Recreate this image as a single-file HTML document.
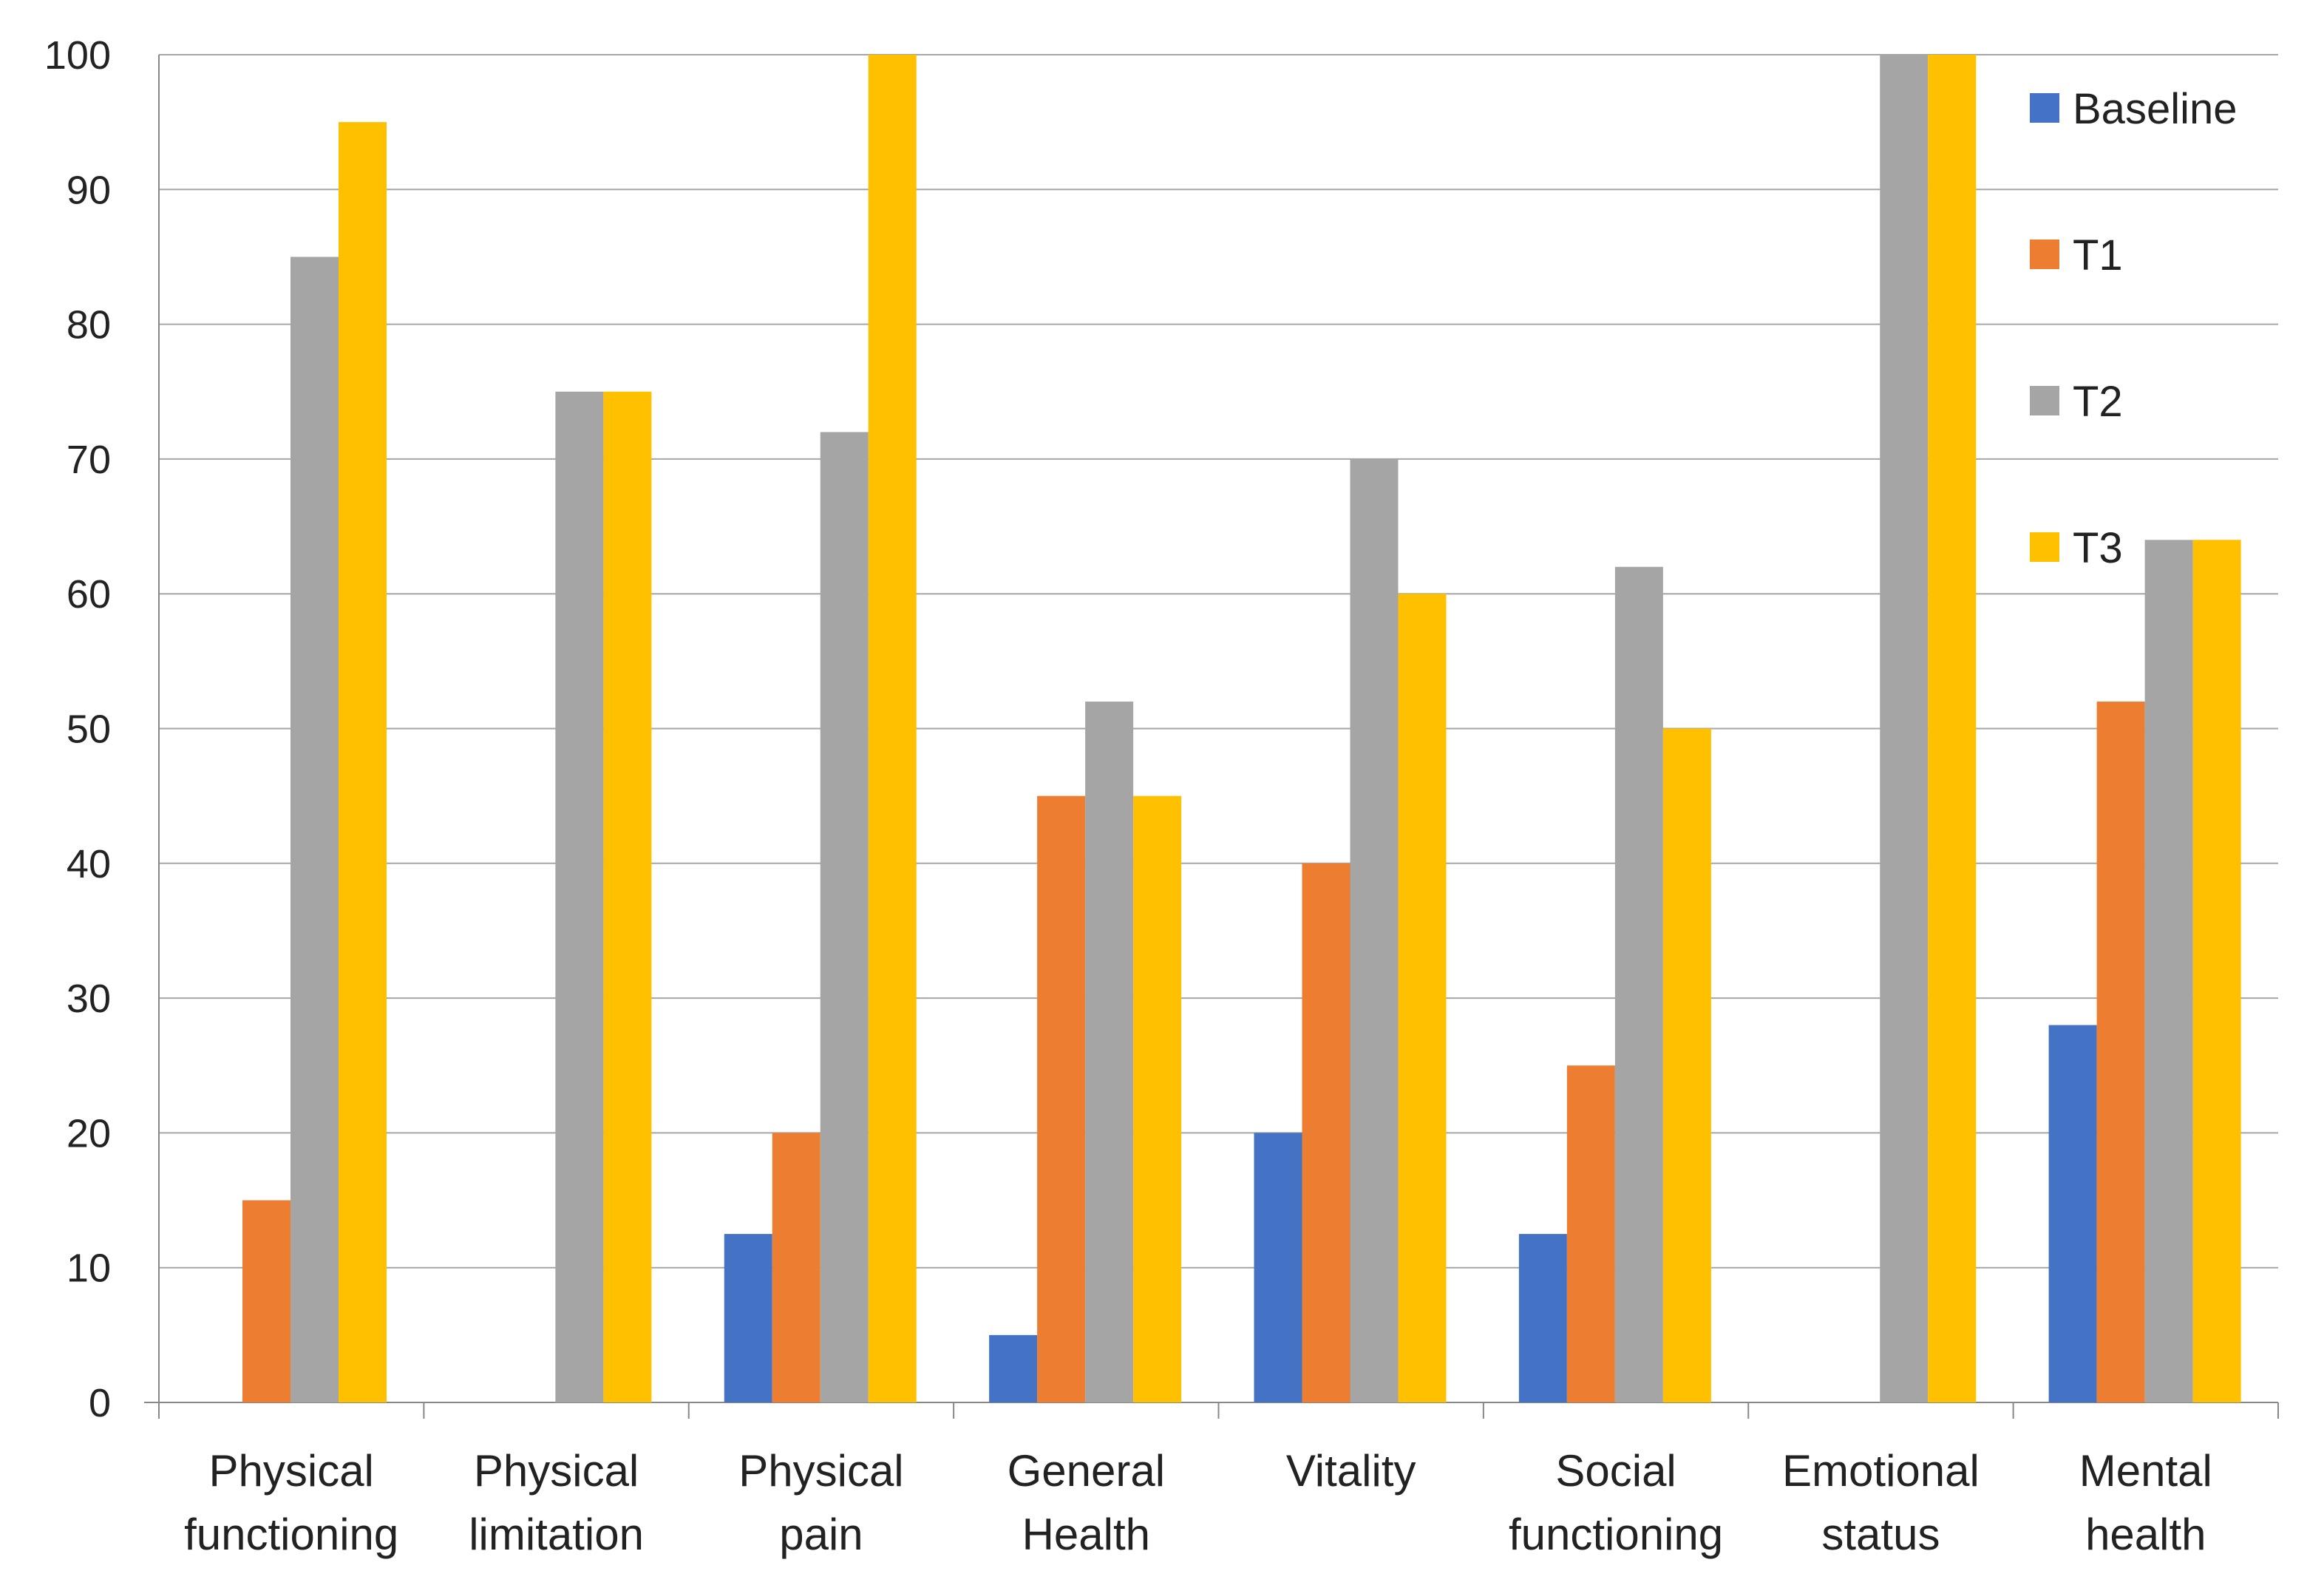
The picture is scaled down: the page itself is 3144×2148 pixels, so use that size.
<!DOCTYPE html>
<html><head><meta charset="utf-8"><style>
html,body{margin:0;padding:0;background:#fff;}
svg{display:block;font-family:"Liberation Sans",sans-serif;}
</style></head><body>
<svg id="chart" width="3144" height="2148" viewBox="0 0 3144 2148" xmlns="http://www.w3.org/2000/svg"></svg>
<script>
const categories = [["Physical","functioning"],["Physical","limitation"],["Physical","pain"],["General","Health"],["Vitality",""],["Social","functioning"],["Emotional","status"],["Mental","health"]];
const seriesNames = ["Baseline","T1","T2","T3"];
const baseline = [0,0,12.5,5,20,12.5,0,28];
const t1 = [15,0,20,45,40,25,0,52];
const t2 = [85,75,72,52,70,62,100,64];
const t3 = [95,75,100,45,60,50,100,64];
const yTicks = [0,10,20,30,40,50,60,70,80,90,100];
const series = [baseline,t1,t2,t3];
const colors = ["#4472C4","#ED7D31","#A5A5A5","#FFC000"];
const L=215,R=3082,Y0=1897,Y100=74;
const svg=document.getElementById('chart');
const NS="http://www.w3.org/2000/svg";
function y(v){return Y0-(v/100)*(Y0-Y100);}
const cw=(R-L)/categories.length;
function x(i){return L+i*cw;}
const bw=65, off=48;
function mk(t,a){const e=document.createElementNS(NS,t);for(const k in a)e.setAttribute(k,a[k]);svg.appendChild(e);return e;}
yTicks.forEach(t=>{
  const g=mk('line',{x1:t===0?195:L,x2:R,y1:y(t),y2:y(t),stroke:t===0?'#888':'#a6a6a6','stroke-width':2});
  
  
  const tx=mk('text',{x:150,y:y(t)+19,'text-anchor':'end','font-size':54,fill:'#222'});
  tx.textContent=t;
  
  
});
const ya=mk('line',{x1:L,x2:L,y1:Y100,y2:Y0+20,stroke:'#888','stroke-width':2});


for(let i=0;i<=categories.length;i++){
  const tk=mk('line',{x1:x(i),x2:x(i),y1:Y0,y2:Y0+22,stroke:'#888','stroke-width':2});
  
  
}
categories.forEach((c,i)=>{
  series.forEach((s,j)=>{
    const v=s[i]; if(v<=0) return;
    const r=mk('rect',{x:x(i)+off+j*bw,y:y(v),width:bw,height:Y0-y(v),fill:colors[j]});
    
    
  });
  const cx=x(i)+cw/2;
  const t=mk('text',{x:cx,y:2010,'text-anchor':'middle','font-size':60,fill:'#222'});
  t.textContent=c[0];
  
  
  if(c[1]){const t2e=mk('text',{x:cx,y:2096,'text-anchor':'middle','font-size':60,fill:'#222'});
  t2e.textContent=c[1];
  
  }
});
seriesNames.forEach((n,j)=>{
  const cy=146+j*198;
  const sq=mk('rect',{x:2746,y:cy-20,width:40,height:40,fill:colors[j]});
  
  
  const t=mk('text',{x:2804,y:cy+21,'font-size':58,fill:'#222'});
  t.textContent=n;
  
  
});
</script>
</body></html>
